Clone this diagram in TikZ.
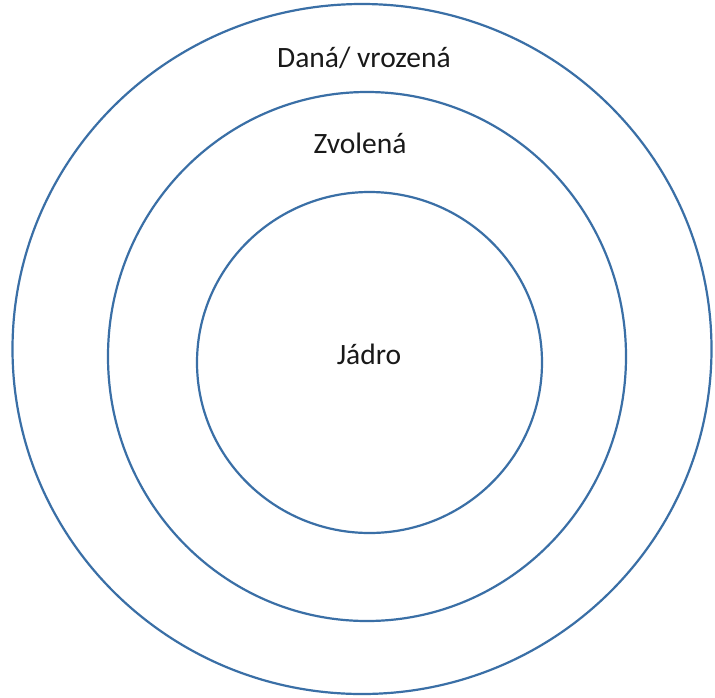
\documentclass[tikz,border=0pt]{standalone}
\usepackage{fontspec}
\setmainfont{Carlito}
\definecolor{ringblue}{HTML}{3A6FA6}
\begin{document}
\begin{tikzpicture}[x=1pt,y=-1pt,
  ring/.style={draw=ringblue,line width=2.2pt},
  lbl/.style={font=\fontsize{29.5}{33}\selectfont,text=black!90,inner sep=0pt}]
\useasboundingbox[fill=white] (0,0) rectangle (715,697);
\draw[ring] (362,349) ellipse [x radius=349.5, y radius=345];
\draw[ring] (367,356.5) ellipse [x radius=259, y radius=264.5];
\draw[ring] (369.5,362.5) ellipse [x radius=172.5, y radius=170.5];
\node[lbl] (outer) at (364,58) {Daná/ vrozená};
\node[lbl] (middle) at (360,143) {Zvolená};
\node[lbl] (core) at (369,354) {Jádro};
\end{tikzpicture}
\end{document}
